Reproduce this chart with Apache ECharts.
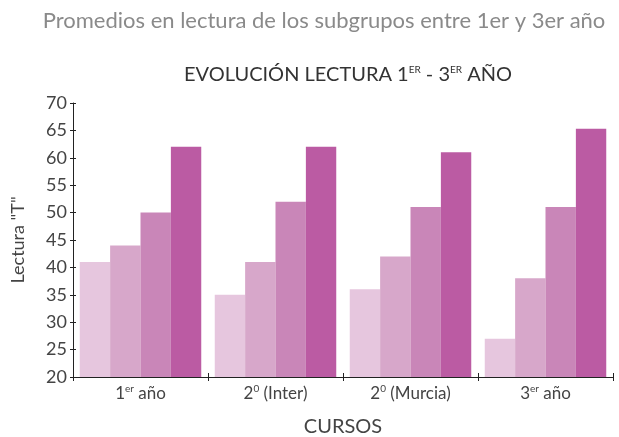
<!DOCTYPE html>
<html><head><meta charset="utf-8">
<script src="https://cdn.jsdelivr.net/npm/echarts@6/dist/echarts.min.js"></script>
<style>html,body{margin:0;padding:0;background:#fff}#c{width:619px;height:437px}</style>
</head><body><div id="c"></div>
<script>
const categories = ["1er año", "2º (Inter)", "2º (Murcia)", "3er año"];
const catBase = ["1", "2", "2", "3"];
const catSup = ["er", "0", "0", "er"];
const catRest = [" año", " (Inter)", " (Murcia)", " año"];
const serie1 = [41, 35, 36, 27];
const serie2 = [44, 41, 42, 38];
const serie3 = [50, 52, 51, 51];
const serie4 = [62, 62, 61, 65.3];
const colors = ["#e6c6de", "#d7a7ca", "#c986b8", "#bb5ba3"];
const yTicks = {min: 20, max: 70, interval: 5};

const FONT = "Lato";
const chart = echarts.init(document.getElementById('c'));
const labelRich = {
  b: {fontSize: 17, color: '#444', fontFamily: FONT},
  s: {fontSize: 10, color: '#444', fontFamily: FONT, verticalAlign: 'top', padding: [0,0,9,0]}
};
chart.setOption({
  animation: false,
  title: [
    {text: 'Promedios en lectura de los subgrupos entre 1er y 3er año', left: 319, textAlign: 'center', top: 5,
     textStyle: {fontSize: 22, fontWeight: 'normal', color: '#8a8a8a', fontFamily: FONT}},
    {text: '{m|EVOLUCIÓN LECTURA 1}{s|ER}{m| - 3}{s|ER}{m| AÑO}', left: 343, textAlign: 'center', top: 60,
     textStyle: {fontWeight: 'normal', rich: {
       m: {fontSize: 20, fontWeight: 'normal', color: '#333', fontFamily: FONT},
       s: {fontSize: 10, fontWeight: 'normal', color: '#333', fontFamily: FONT, verticalAlign: 'top', padding: [0,0,10,0]}
     }}}
  ],
  grid: {left: 73, right: 6, top: 103, bottom: 60, containLabel: false, outerBoundsMode: 'none'},
  xAxis: [{
    type: 'category', data: categories,
    name: 'CURSOS', nameLocation: 'middle', nameGap: 40,
    nameTextStyle: {fontSize: 20, color: '#444', fontFamily: FONT},
    axisLine: {lineStyle: {color: '#222', width: 1}},
    axisTick: {show: true, length: 4, lineStyle: {color: '#222'}},
    axisLabel: {margin: 7, interval: 0, formatter: (v, i) => '{b|' + catBase[i] + '}{s|' + catSup[i] + '}{b|' + catRest[i] + '}', rich: labelRich}
  }, {
    type: 'category', data: categories, position: 'bottom', offset: 0,
    axisLine: {show: false}, axisTick: {show: true, inside: true, length: 4, lineStyle: {color: '#222'}},
    axisLabel: {show: false}
  }],
  yAxis: [{
    type: 'value', min: yTicks.min, max: yTicks.max, interval: yTicks.interval,
    name: 'Lectura "T"', nameLocation: 'middle', nameGap: 46,
    nameTextStyle: {fontSize: 18, color: '#444', fontFamily: FONT},
    axisLine: {show: true, lineStyle: {color: '#222'}},
    axisTick: {show: true, length: 3, lineStyle: {color: '#222'}},
    axisLabel: {fontSize: 18, color: '#444', fontFamily: FONT, margin: 6},
    splitLine: {show: false}
  }, {
    type: 'value', min: yTicks.min, max: yTicks.max, interval: yTicks.interval, position: 'left',
    axisLine: {show: false}, axisTick: {show: true, inside: true, length: 3, lineStyle: {color: '#222'}},
    axisLabel: {show: false}, splitLine: {show: false}
  }],
  series: [serie1, serie2, serie3, serie4].map((d, i) => ({
    type: 'bar', data: d, barGap: '0%', barCategoryGap: '10%',
    itemStyle: {color: colors[i]}
  }))
});
</script></body></html>
